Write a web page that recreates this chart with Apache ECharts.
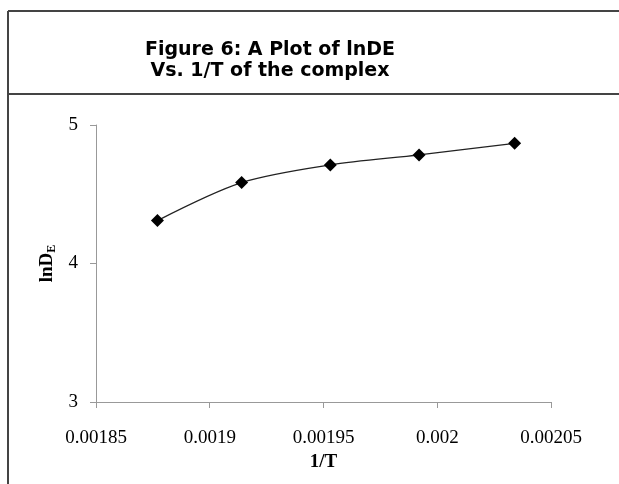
<!DOCTYPE html>
<html>
<head>
<meta charset="utf-8">
<script src="https://cdn.jsdelivr.net/npm/echarts@6/dist/echarts.min.js"></script>
<style>
  html, body { margin: 0; padding: 0; background: #fff; }
  #chart { width: 619px; height: 484px; }
</style>
</head>
<body>
<div id="chart"></div>
<script>
// 1/T values and lnDE
var invT = [0.001877, 0.001914, 0.001953, 0.001992, 0.002034];
var lnDE = [4.31, 4.584, 4.712, 4.784, 4.868];
var xTicks = [0.00185, 0.0019, 0.00195, 0.002, 0.00205];
var yTicks = [3, 4, 5];

var points = [];
for (var i = 0; i < invT.length; i++) {
  points.push([invT[i], lnDE[i]]);
}

var chart = echarts.init(document.getElementById("chart"));
var serif = "'Liberation Serif', 'Times New Roman', serif";

var option = {
  backgroundColor: "#fff",
  animation: false,
  title: {
    text: "Figure 6: A Plot of lnDE\nVs. 1/T of the complex",
    left: 265,
    top: 35,
    textAlign: "center",
    textStyle: {
      fontFamily: "'DejaVu Sans', Verdana, sans-serif",
      fontWeight: "bold",
      fontSize: 19,
      lineHeight: 21,
      color: "#000"
    }
  },
  graphic: [
    // frame around the figure and the caption box
    { type: "line", shape: { x1: 8, y1: 11, x2: 619, y2: 11 }, style: { stroke: "#444", lineWidth: 2 } },
    { type: "line", shape: { x1: 8, y1: 94, x2: 619, y2: 94 }, style: { stroke: "#444", lineWidth: 2 } },
    { type: "line", shape: { x1: 8, y1: 11, x2: 8, y2: 484 }, style: { stroke: "#444", lineWidth: 2 } }
  ],
  grid: {
    left: 96,
    right: 68,
    top: 125,
    bottom: 82
  },
  xAxis: {
    type: "value",
    min: xTicks[0],
    max: xTicks[xTicks.length - 1],
    interval: 0.00005,
    name: "1/T",
    nameLocation: "middle",
    nameGap: 48,
    nameTextStyle: { fontFamily: serif, fontWeight: "bold", fontSize: 19, color: "#000" },
    axisLine: { show: true, lineStyle: { color: "#999", width: 1 } },
    axisTick: { show: true, length: 6, lineStyle: { color: "#999" } },
    splitLine: { show: false },
    axisLabel: {
      margin: 27,
      fontFamily: serif,
      fontSize: 19,
      color: "#000",
      formatter: function (v) { return String(+v.toPrecision(6)); }
    }
  },
  yAxis: {
    type: "value",
    min: yTicks[0],
    max: yTicks[yTicks.length - 1],
    interval: 1,
    name: "{a|lnD}{b|E}",
    nameLocation: "middle",
    nameGap: 37,
    nameRotate: 90,
    nameTextStyle: {
      rich: {
        a: { fontFamily: serif, fontWeight: "bold", fontSize: 19, color: "#000" },
        b: { fontFamily: serif, fontWeight: "bold", fontSize: 12, color: "#000", padding: [9, 0, 0, 0] }
      }
    },
    axisLine: { show: true, lineStyle: { color: "#999", width: 1 } },
    axisTick: { show: true, length: 6, lineStyle: { color: "#999" } },
    splitLine: { show: false },
    axisLabel: {
      margin: 18,
      fontFamily: serif,
      fontSize: 19,
      color: "#000"
    }
  },
  series: [
    {
      type: "line",
      data: points,
      smooth: 0.3,
      symbol: "diamond",
      symbolSize: 13,
      itemStyle: { color: "#000" },
      lineStyle: { color: "#222", width: 1.3 }
    }
  ]
};

chart.setOption(option);
</script>
</body>
</html>
